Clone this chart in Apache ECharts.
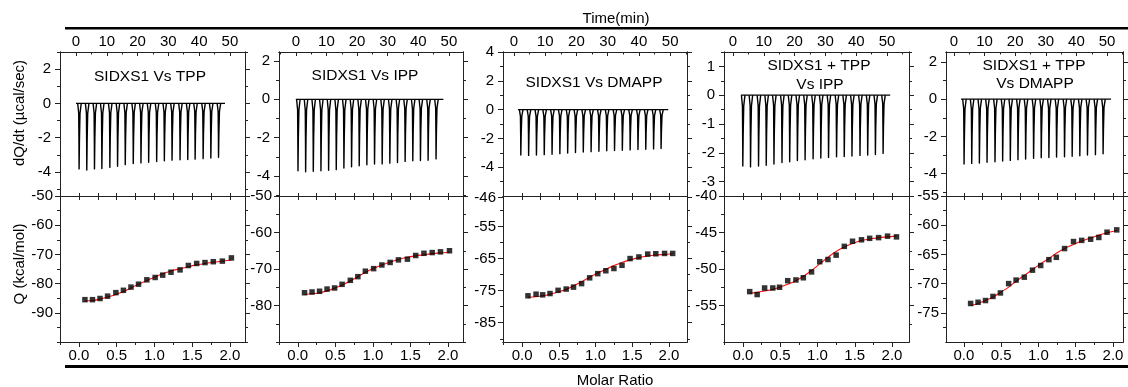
<!DOCTYPE html>
<html><head><meta charset="utf-8">
<script src="https://cdn.jsdelivr.net/npm/echarts@6/dist/echarts.min.js"></script>
<style>html,body{margin:0;padding:0;background:#fff}#c{width:1128px;height:387px}</style>
</head><body><div id="c"></div>
<script>
// ---------------- DATA ----------------
const panelTitles = [['SIDXS1 Vs TPP'], ['SIDXS1 Vs IPP'], ['SIDXS1 Vs DMAPP'], ['SIDXS1 + TPP', 'Vs IPP'], ['SIDXS1 + TPP', 'Vs DMAPP']];
const topAxisTitle = 'Time(min)';
const bottomAxisTitle = 'Molar Ratio';
const upperYTitle = 'dQ/dt (µcal/sec)';
const lowerYTitle = 'Q (kcal/mol)';

const timeLabels = [0, 10, 20, 30, 40, 50];
const timeMinor = [-5, 5, 15, 25, 35, 45, 55];
const ratioLabels = [0, 0.5, 1.0, 1.5, 2.0];
const ratioMinor = [-0.25, 0.25, 0.75, 1.25, 1.75];

// axis ranges per panel
const timeMin = [-5.2, -5.5, -3.5, -2.9, -2.6];
const timeMax = [54.9, 54.6, 55.4, 57.1, 55.2];
const ratioMin = [-0.25, -0.25, -0.26, -0.255, -0.24];
const ratioMax = [2.2, 2.2, 2.245, 2.228, 2.134];
const upperMin = [-5.4, -5.03, -6, -3.5, -5.2];
const upperMax = [3, 2.46, 4, 1.5, 2.53];
const lowerMin = [-100, -90, -91, -60, -80];
const lowerMax = [-50, -50, -45.5, -40, -55];

const upperLabels = [[-4, -2, 0, 2], [-4, -2, 0, 2], [-4, -2, 0, 2, 4], [-3, -2, -1, 0, 1], [-4, -2, 0, 2]];
const upperMinor = [[-5, -3, -1, 1, 3], [-5, -3, -1, 1], [-5, -3, -1, 1, 3], [-3.5, -2.5, -1.5, -0.5, 0.5, 1.5], [-5, -3, -1, 1]];
const lowerLabels = [[-90, -80, -70, -60, -50], [-80, -70, -60, -50], [-85, -75, -65, -55, -46], [-55, -50, -45, -40], [-75, -70, -65, -60, -55]];
const lowerMinor = [[-100, -95, -85, -75, -65, -55], [-90, -85, -75, -65, -55], [-90, -80, -70, -60, -50], [-57.5, -52.5, -47.5, -42.5], [-77.5, -72.5, -67.5, -62.5, -57.5]];

// raw thermograms: injection times (min) and peak depths (µcal/sec)
const injTime1 = [1.0, 3.5, 6.0, 8.4, 11.0, 13.5, 16.0, 18.6, 21.1, 23.6, 26.2, 28.7, 31.2, 33.8, 36.3, 38.7, 41.3, 43.8, 46.3];
const injTime2 = [0.7, 3.2, 5.7, 8.2, 10.7, 13.2, 15.7, 18.2, 20.7, 23.2, 25.7, 28.2, 30.7, 33.2, 35.7, 38.2, 40.7, 43.2, 45.8];
const injTime3 = [2.2, 4.7, 7.2, 9.7, 12.2, 14.7, 17.2, 19.7, 22.2, 24.7, 27.2, 29.7, 32.2, 34.7, 37.2, 39.7, 42.2, 44.7, 47.1];
const injTime4 = [3.2, 5.7, 8.3, 10.8, 13.3, 15.9, 18.4, 20.9, 23.4, 26.0, 28.5, 31.0, 33.6, 36.1, 38.6, 41.2, 43.7, 46.2, 48.7];
const injTime5 = [3.3, 5.8, 8.3, 10.8, 13.4, 15.9, 18.4, 20.9, 23.4, 26.0, 28.5, 31.0, 33.5, 36.1, 38.6, 41.1, 43.6, 46.2, 48.7];

const peak1 = [-3.82, -3.88, -3.82, -3.80, -3.73, -3.67, -3.57, -3.51, -3.47, -3.43, -3.39, -3.35, -3.31, -3.29, -3.27, -3.25, -3.22, -3.18, -3.14];
const peak2 = [-3.72, -3.77, -3.74, -3.72, -3.69, -3.66, -3.57, -3.51, -3.46, -3.41, -3.37, -3.36, -3.32, -3.29, -3.23, -3.20, -3.18, -3.17, -3.10];
const peak3 = [-3.15, -3.18, -3.15, -3.13, -3.10, -3.06, -3.02, -2.98, -2.95, -2.92, -2.89, -2.86, -2.84, -2.82, -2.80, -2.77, -2.75, -2.73, -2.70];
const peak4 = [-2.46, -2.49, -2.46, -2.43, -2.39, -2.34, -2.31, -2.27, -2.24, -2.21, -2.18, -2.16, -2.14, -2.13, -2.11, -2.09, -2.08, -2.06, -2.02];
const peak5 = [-3.48, -3.45, -3.43, -3.39, -3.36, -3.32, -3.29, -3.25, -3.21, -3.18, -3.14, -3.13, -3.11, -3.09, -3.07, -3.04, -3.00, -2.98, -2.93];

const baseStart = [0, 0, 1.3, 2.6, 2.3];
const baseEnd = [48.4, 48.2, 49.4, 51.0, 51.3];

// integrated heats: molar ratio, Q (points) and fit (red)
const ratio1 = [0.08, 0.18, 0.28, 0.38, 0.49, 0.59, 0.69, 0.79, 0.90, 1.01, 1.11, 1.22, 1.34, 1.45, 1.56, 1.67, 1.78, 1.90, 2.02];
const ratio2 = [0.09, 0.19, 0.29, 0.39, 0.49, 0.59, 0.70, 0.80, 0.90, 1.01, 1.12, 1.23, 1.34, 1.46, 1.57, 1.68, 1.79, 1.90, 2.02];
const ratio3 = [0.08, 0.19, 0.28, 0.38, 0.49, 0.60, 0.70, 0.81, 0.92, 1.03, 1.14, 1.25, 1.36, 1.47, 1.59, 1.71, 1.82, 1.94, 2.05];
const ratio4 = [0.09, 0.19, 0.29, 0.40, 0.49, 0.60, 0.71, 0.81, 0.92, 1.03, 1.14, 1.25, 1.36, 1.47, 1.59, 1.70, 1.82, 1.94, 2.06];
const ratio5 = [0.09, 0.19, 0.29, 0.39, 0.49, 0.60, 0.70, 0.81, 0.92, 1.03, 1.14, 1.24, 1.35, 1.47, 1.58, 1.70, 1.81, 1.92, 2.05];

const heat1 = [-85.5, -85.5, -85.1, -84.3, -83.1, -82.3, -81.2, -80.2, -78.7, -77.9, -77.1, -76.1, -75.3, -73.8, -73.1, -72.8, -72.5, -72.3, -71.2];
const heat2 = [-76.5, -76.3, -76.1, -75.5, -75.2, -74.2, -73.1, -72.1, -70.6, -69.9, -68.9, -68.2, -67.5, -67.3, -66.3, -65.7, -65.5, -65.3, -65.0];
const heat3 = [-76.6, -76.1, -76.3, -75.9, -74.9, -74.5, -73.9, -72.8, -71.0, -69.7, -68.8, -68.1, -67.1, -65.0, -64.5, -63.6, -63.5, -63.4, -63.4];
const heat4 = [-53.1, -53.5, -52.6, -52.6, -52.5, -51.6, -51.5, -51.2, -50.4, -49.0, -48.7, -48.1, -46.9, -46.2, -46.0, -45.8, -45.7, -45.5, -45.6];
const heat5 = [-73.4, -73.2, -72.9, -72.2, -71.6, -70.0, -69.4, -68.9, -67.7, -66.9, -65.9, -65.5, -64.0, -62.8, -62.6, -62.4, -62.1, -61.2, -60.8];

const fit1 = [-86.0, -85.8, -85.3, -84.6, -83.7, -82.7, -81.5, -80.2, -78.9, -77.7, -76.6, -75.7, -74.9, -74.2, -73.6, -73.1, -72.7, -72.3, -71.9];
const fit2 = [-77.0, -76.8, -76.5, -76.0, -75.3, -74.4, -73.3, -72.1, -70.9, -69.8, -68.9, -68.1, -67.4, -66.8, -66.4, -66.1, -65.8, -65.6, -65.4];
const fit3 = [-77.1, -76.9, -76.6, -76.1, -75.4, -74.6, -73.5, -72.2, -70.8, -69.5, -68.3, -67.2, -66.2, -65.4, -64.7, -64.2, -63.9, -63.7, -63.5];
const fit4 = [-53.3, -53.2, -53.0, -52.8, -52.5, -52.1, -51.6, -51.0, -50.2, -49.3, -48.4, -47.6, -47.0, -46.5, -46.1, -45.9, -45.7, -45.6, -45.5];
const fit5 = [-73.8, -73.4, -72.9, -72.3, -71.5, -70.6, -69.6, -68.6, -67.6, -66.6, -65.7, -64.8, -64.0, -63.3, -62.7, -62.2, -61.7, -61.3, -60.9];

// ---------------- LAYOUT ----------------
const injTimes = [injTime1, injTime2, injTime3, injTime4, injTime5];
const peaks = [peak1, peak2, peak3, peak4, peak5];
const ratios = [ratio1, ratio2, ratio3, ratio4, ratio5];
const heats = [heat1, heat2, heat3, heat4, heat5];
const fits = [fit1, fit2, fit3, fit4, fit5];

const GL = [60, 279, 503, 724, 946];
const GW = [185, 184, 184, 185, 177];
const UP_TOP = 52, UP_H = 144, LO_TOP = 196, LO_H = 146;
const FONT = '"Liberation Sans", Arial, sans-serif';
const AX = '#222';
const TICK_FS = 15;
const titlePos = [[[150, 77]], [[365, 76]], [[594, 83]], [[819, 66], [820, 85]], [[1034, 66], [1035, 84]]];

const grids = [], xAxes = [], yAxes = [], series = [];

function axis(grid, pos, min, max, ticks, len, inside, labels, fmt, margin) {
  return {
    type: 'value', gridIndex: grid, position: pos, min: min, max: max,
    axisLine: { show: true, onZero: false, lineStyle: { color: AX, width: 1 } },
    axisTick: { show: ticks.length > 0, inside: inside, length: len, customValues: ticks, lineStyle: { color: AX, width: 1 } },
    minorTick: { show: false },
    axisLabel: labels ? { show: true, customValues: labels, formatter: fmt, margin: margin, fontSize: TICK_FS, color: '#000', fontFamily: FONT, hideOverlap: false } : { show: false },
    splitLine: { show: false },
    axisPointer: { show: false }
  };
}
const fmtInt = v => String(Math.round(v * 10) / 10);
const fmtRatio = v => v.toFixed(1);

for (let p = 0; p < 5; p++) {
  const gu = grids.length;
  grids.push({ left: GL[p], top: UP_TOP, width: GW[p], height: UP_H, containLabel: false, outerBoundsMode: 'none' });
  const gl = grids.length;
  grids.push({ left: GL[p], top: LO_TOP, width: GW[p], height: LO_H, containLabel: false, outerBoundsMode: 'none' });

  // upper grid axes
  const xu = xAxes.length;
  xAxes.push(axis(gu, 'top', timeMin[p], timeMax[p], timeLabels, 4, true, timeLabels, fmtInt, 3));
  xAxes.push(axis(gu, 'top', timeMin[p], timeMax[p], timeMinor, 2.5, true, null));
  const yu = yAxes.length;
  yAxes.push(axis(gu, 'left', upperMin[p], upperMax[p], upperLabels[p], 5, false, upperLabels[p], fmtInt, 9));
  yAxes.push(axis(gu, 'left', upperMin[p], upperMax[p], upperMinor[p], 3, false, null));
  yAxes.push(axis(gu, 'right', upperMin[p], upperMax[p], upperLabels[p], 5, false, null));
  yAxes.push(axis(gu, 'right', upperMin[p], upperMax[p], upperMinor[p], 3, false, null));

  // lower grid axes
  const xl = xAxes.length;
  xAxes.push(axis(gl, 'bottom', ratioMin[p], ratioMax[p], ratioLabels, 5, false, ratioLabels, fmtRatio, 6));
  xAxes.push(axis(gl, 'bottom', ratioMin[p], ratioMax[p], ratioMinor, 3, false, null));
  xAxes.push(axis(gl, 'top', ratioMin[p], ratioMax[p], ratioLabels.concat(ratioMinor), 4, true, null));
  xAxes.push(axis(gl, 'top', ratioMin[p], ratioMax[p], ratioLabels.concat(ratioMinor), 3, false, null));
  const yl = yAxes.length;
  yAxes.push(axis(gl, 'left', lowerMin[p], lowerMax[p], lowerLabels[p], 5, false, lowerLabels[p], fmtInt, 7));
  yAxes.push(axis(gl, 'left', lowerMin[p], lowerMax[p], lowerMinor[p], 3, false, null));
  yAxes.push(axis(gl, 'right', lowerMin[p], lowerMax[p], lowerLabels[p], 5, false, null));
  yAxes.push(axis(gl, 'right', lowerMin[p], lowerMax[p], lowerMinor[p], 3, false, null));

  // baseline
  series.push({
    type: 'line', xAxisIndex: xu, yAxisIndex: yu, data: [[baseStart[p], 0], [baseEnd[p], 0]],
    symbol: 'none', lineStyle: { color: '#000', width: 1.2 }, silent: true, animation: false
  });
  // injection spikes
  series.push({
    type: 'custom', coordinateSystem: 'cartesian2d', xAxisIndex: xu, yAxisIndex: yu,
    data: injTimes[p].map((t, i) => [t, peaks[p][i]]),
    renderItem: function (params, api) {
      const t = api.value(0), d = api.value(1);
      const pts = [[t - 0.45, 0], [t - 0.12, d * 0.15], [t - 0.04, d * 0.6], [t, d], [t + 0.12, d * 0.55], [t + 0.3, d * 0.15], [t + 0.7, 0]].map(q => api.coord(q));
      return { type: 'polyline', shape: { points: pts }, style: { stroke: '#000', lineWidth: 1.4, fill: null, lineJoin: 'round' } };
    },
    silent: true, animation: false
  });
  // fit line
  series.push({
    type: 'line', xAxisIndex: xl, yAxisIndex: yl, data: ratios[p].map((x, i) => [x, fits[p][i]]),
    smooth: 0.4, symbol: 'none', lineStyle: { color: '#ff1010', width: 1.1 }, silent: true, animation: false, z: 3
  });
  // points
  series.push({
    type: 'scatter', xAxisIndex: xl, yAxisIndex: yl, data: ratios[p].map((x, i) => [x, heats[p][i]]),
    symbol: 'rect', symbolSize: 5.5, itemStyle: { color: '#000' }, silent: true, animation: false, z: 4
  });
}

const graphic = [
  { type: 'rect', shape: { x: 65, y: 27, width: 1063, height: 2.5 }, style: { fill: '#000' } },
  { type: 'rect', shape: { x: 65, y: 365, width: 1063, height: 3 }, style: { fill: '#000' } },
  { type: 'text', x: 616, y: 19, style: { text: topAxisTitle, align: 'center', verticalAlign: 'middle', font: '15px ' + FONT, fill: '#000' } },
  { type: 'text', x: 615, y: 381, style: { text: bottomAxisTitle, align: 'center', verticalAlign: 'middle', font: '15px ' + FONT, fill: '#000' } },
  { type: 'text', x: 20, y: 113, rotation: Math.PI / 2, style: { text: upperYTitle, align: 'center', verticalAlign: 'middle', font: '15px ' + FONT, fill: '#000' } },
  { type: 'text', x: 20, y: 264, rotation: Math.PI / 2, style: { text: lowerYTitle, align: 'center', verticalAlign: 'middle', font: '15px ' + FONT, fill: '#000' } }
];
for (let p = 0; p < 5; p++) {
  panelTitles[p].forEach((t, k) => {
    graphic.push({ type: 'text', x: titlePos[p][k][0], y: titlePos[p][k][1], style: { text: t, align: 'center', verticalAlign: 'middle', font: '15.5px ' + FONT, fill: '#000' } });
  });
}

const chart = echarts.init(document.getElementById('c'), null, { renderer: 'canvas' });
chart.setOption({
  backgroundColor: '#fff',
  animation: false,
  grid: grids, xAxis: xAxes, yAxis: yAxes, series: series, graphic: graphic
});
</script></body></html>
